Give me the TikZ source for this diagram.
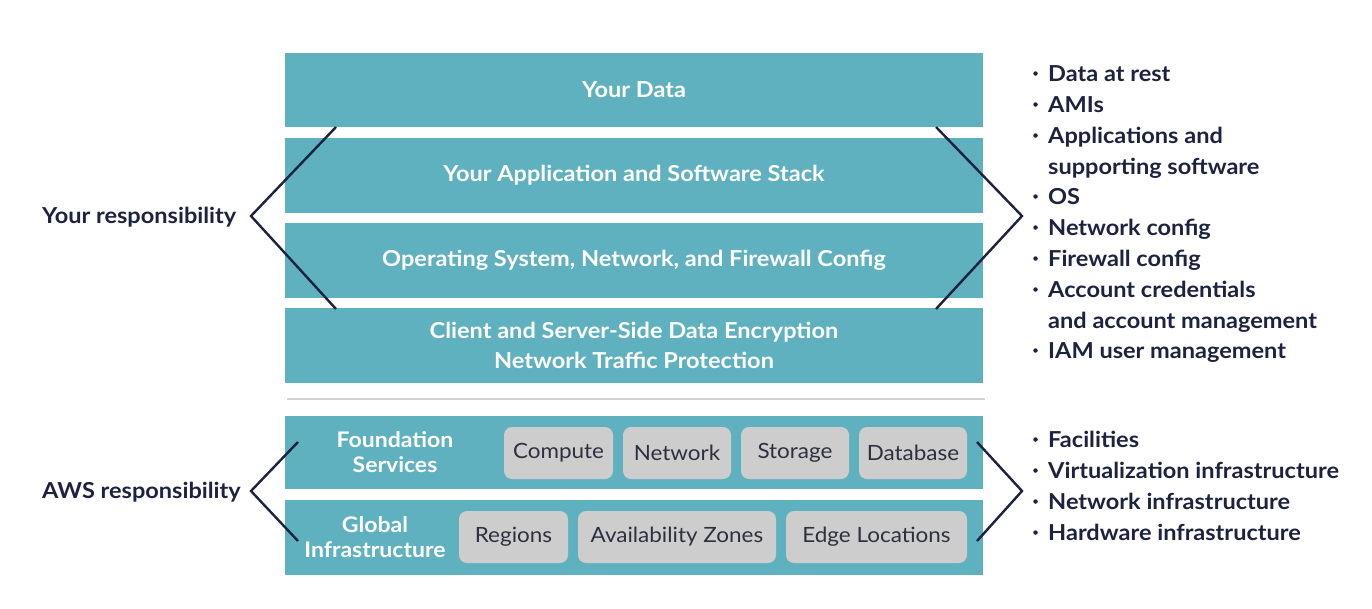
\documentclass[tikz,border=0pt]{standalone}
\usepackage{fontspec}
\setmainfont{Lato}[FakeStretch=1.07]
\definecolor{teal}{HTML}{5FB1C0}
\definecolor{navy}{HTML}{1C2240}
\definecolor{chip}{HTML}{CDCDCD}
\definecolor{chiptext}{HTML}{2E3040}
\definecolor{sep}{HTML}{D2D2D2}
\begin{document}
\begin{tikzpicture}[x=1pt,y=-1pt,
  layer/.style={fill=teal,inner sep=0pt,minimum width=698pt,minimum height=74.5pt,text=white,font=\bfseries\fontsize{22}{30.5}\selectfont,align=center},
  chipbox/.style={fill=chip,rounded corners=8pt,inner sep=0pt,minimum height=52pt,text=chiptext,font=\fontsize{21}{24}\selectfont},
  rowlabel/.style={text=white,font=\bfseries\fontsize{21.5}{24.5}\selectfont,align=center,inner sep=0pt},
  sidelabel/.style={text=navy,font=\bfseries\fontsize{22}{24}\selectfont,inner sep=0pt},
  item/.style={text=navy,font=\bfseries\fontsize{22}{24}\selectfont,inner sep=0pt,anchor=base west},
  dot/.style={fill=navy,circle,inner sep=0pt,minimum size=4.5pt},
  bracket/.style={draw=navy,line width=2.4pt,line join=miter}
]
\useasboundingbox (0,0) rectangle (1372,608);
% upper layers
\node[layer] (data) at (634,90) {Your Data};
\node[layer] (app) at (634,175.5) {Your Application and Software Stack};
\node[layer] (os) at (634,260.5) {Operating System, Network, and Firewall Config};
\node[layer] (enc) at (634,345.5) {Client and Server-Side Data Encryption\\Network Traffic Protection};
% separator
\coordinate (sepL) at (287,399);
\coordinate (sepR) at (985,399);
\draw[sep,line width=2pt] (sepL) -- (sepR);
% lower layers
\node[layer,minimum height=73pt] (found) at (634,452.5) {};
\node[layer,minimum height=75pt] (glob) at (634,537.5) {};
\node[rowlabel] (foundlbl) at (395,452) {Foundation\\Services};
\node[rowlabel] (globlbl) at (375,537) {Global\\Infrastructure};
\node[chipbox,minimum width=109pt] (compute) at (558.5,453) {Compute};
\node[chipbox,minimum width=108pt] (network) at (677,453) {Network};
\node[chipbox,minimum width=108pt] (storage) at (795,453) {Storage};
\node[chipbox,minimum width=108pt] (database) at (913,453) {Database};
\node[chipbox,minimum width=109pt] (regions) at (513.5,537) {Regions};
\node[chipbox,minimum width=198pt] (az) at (677,537) {Availability Zones};
\node[chipbox,minimum width=181pt] (edge) at (876.5,537) {Edge Locations};
% side labels
\node[sidelabel,anchor=west] (yours) at (42,217) {Your responsibility};
\node[sidelabel,anchor=west] (aws) at (42,492) {AWS responsibility};
% brackets
\coordinate (yl1) at (336,127);
\coordinate (yl2) at (251,216);
\coordinate (yl3) at (336,309);
\coordinate (yr1) at (936,127);
\coordinate (yr2) at (1022,216);
\coordinate (yr3) at (936,309);
\coordinate (al1) at (298,442);
\coordinate (al2) at (251,491);
\coordinate (al3) at (298,541);
\coordinate (ar1) at (977,442);
\coordinate (ar2) at (1022,491);
\coordinate (ar3) at (977,541);
\draw[bracket] (yl1) -- (yl2) -- (yl3);
\draw[bracket] (yr1) -- (yr2) -- (yr3);
\draw[bracket] (al1) -- (al2) -- (al3);
\draw[bracket] (ar1) -- (ar2) -- (ar3);
% bullet lists
\foreach \t/\y/\b [count=\i] in {Data at rest/81/1, AMIs/112/1, Applications and/143/1, supporting software/174/0, OS/204/1, Network config/235/1, Firewall config/266/1, Account credentials/297/1, and account management/328/0, IAM user management/358/1, Facilities/447/1, Virtualization infrastructure/478/1, Network infrastructure/509/1, Hardware infrastructure/540/1}{
  \node[item] (it\i) at (1048,\y) {\t};
  \ifnum\b=1 \node[dot] (bu\i) at (1035.5,\y-7.5) {}; \fi
}
\end{tikzpicture}
\end{document}
